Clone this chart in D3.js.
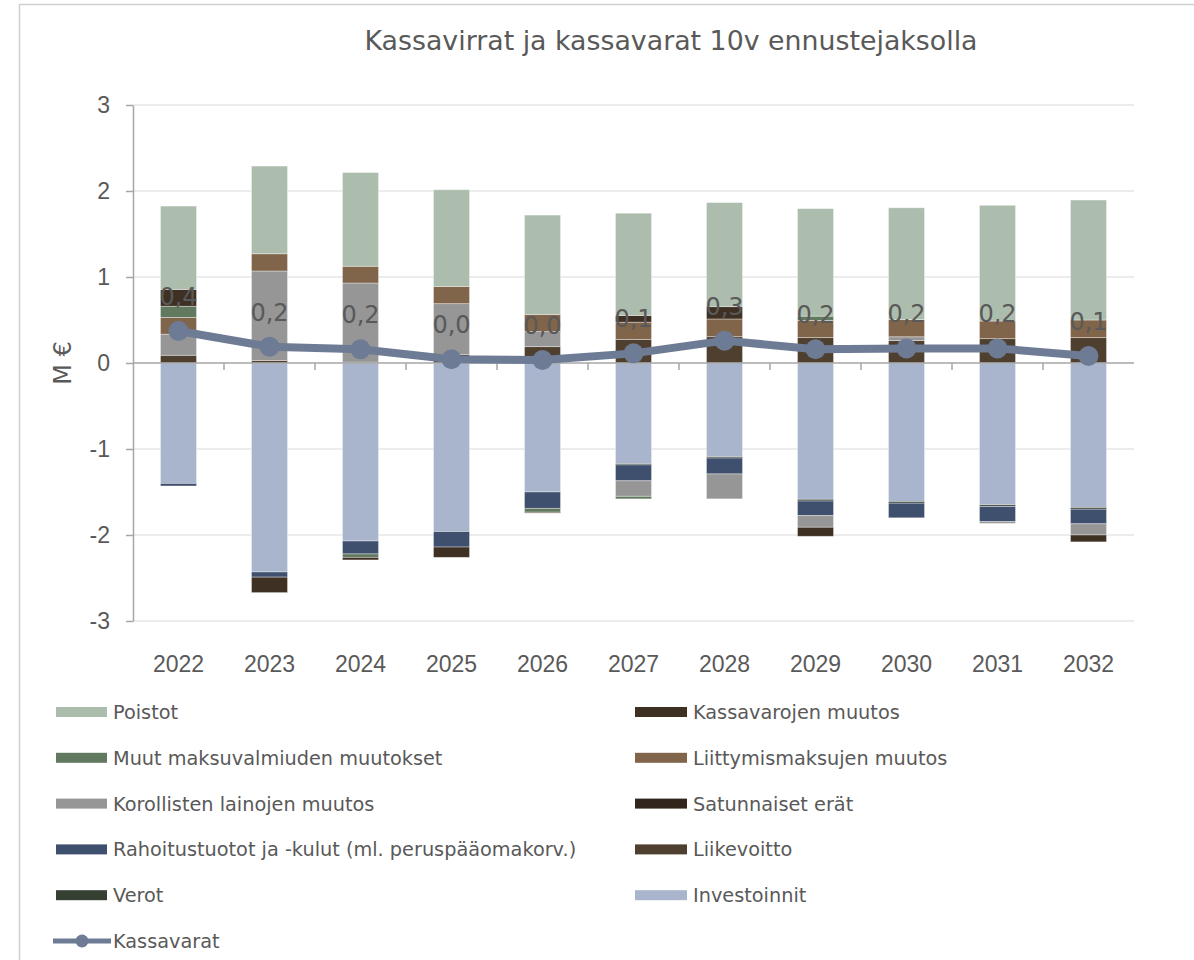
<!DOCTYPE html>
<html lang="fi">
<head>
    <meta charset="UTF-8"/>
    <title>Kassavirrat ja kassavarat</title>
    <script src="https://d3js.org/d3.v7.min.js"></script>
    <style>
        body { margin: 0; background: #fff; }
        svg { font-family: Verdana, "DejaVu Sans", sans-serif; }
        .axis path, .axis line { fill: none; stroke: #a6a6a6; stroke-width: 1.5; }
        .axis text { fill: #595959; font-size: 23px; }
        .grid-line { stroke: #d9d9d9; stroke-width: 1.2; }
        .legend text { fill: #595959; font-size: 19.3px; }
    </style>
</head>
<body></body>
<script>
    let width = 1194,
        height = 960;

    // vuodet ja sarjat (pinoamisjärjestys nollasta ulospäin)
    let years = ["2022", "2023", "2024", "2025", "2026", "2027", "2028", "2029", "2030", "2031", "2032"];

    let investoinnit = [-1.40, -2.43, -2.07, -1.96, -1.50, -1.17, -1.09, -1.585, -1.61, -1.65, -1.68];
    let verot = [0, 0, 0, 0, 0, -0.015, -0.015, -0.02, -0.02, -0.02, -0.02];
    let liikevoitto = [0.09, 0.03, 0.01, 0.10, 0.19, 0.275, 0.306, 0.295, 0.26, 0.283, 0.295];
    let rahoitus = [-0.03, -0.06, -0.15, -0.18, -0.19, -0.185, -0.185, -0.17, -0.17, -0.175, -0.17];
    let satunnaiset = [0, 0, 0, 0, 0, 0, 0, 0, 0, 0, 0];
    let korolliset = [0.245, 1.04, 0.92, 0.59, 0.175, -0.18, -0.29, -0.135, 0.045, -0.02, -0.13];
    let liittymis = [0.195, 0.20, 0.195, 0.20, 0.20, 0.20, 0.206, 0.20, 0.20, 0.205, 0.205];
    let muut = [0.13, 0, -0.04, 0, -0.045, -0.03, 0, 0.05, 0, 0, 0];
    let kassavarojenMuutos = [0.195, -0.18, -0.03, -0.12, -0.01, 0.077, 0.143, -0.105, 0, 0, -0.08];
    let poistot = [0.97, 1.02, 1.09, 1.125, 1.155, 1.19, 1.21, 1.25, 1.30, 1.346, 1.395];

    let kassavarat = [0.372, 0.19, 0.159, 0.043, 0.035, 0.112, 0.26, 0.16, 0.17, 0.17, 0.081];

    let yTicks = [-3, -2, -1, 0, 1, 2, 3];

    let series = [
        {key: "Investoinnit", values: investoinnit, color: "#a8b5cc"},
        {key: "Verot", values: verot, color: "#354033"},
        {key: "Liikevoitto", values: liikevoitto, color: "#4f3f2e"},
        {key: "Rahoitustuotot ja -kulut (ml. peruspääomakorv.)", values: rahoitus, color: "#3f4f6e"},
        {key: "Satunnaiset erät", values: satunnaiset, color: "#32261c"},
        {key: "Korollisten lainojen muutos", values: korolliset, color: "#969696"},
        {key: "Liittymismaksujen muutos", values: liittymis, color: "#80654a"},
        {key: "Muut maksuvalmiuden muutokset", values: muut, color: "#617a5f"},
        {key: "Kassavarojen muutos", values: kassavarojenMuutos, color: "#3f3024"},
        {key: "Poistot", values: poistot, color: "#adbdad"}
    ];
    let lineColor = "#6e7b95";

    let svg = d3.select("body").append("svg")
        .attr("width", width)
        .attr("height", height);

    // kaavion reunus
    svg.append("rect")
        .attr("x", 19.5).attr("y", 4.5)
        .attr("width", 1200).attr("height", 1000)
        .style("fill", "none")
        .style("stroke", "#d0d0d0")
        .style("stroke-width", 1.5);

    let plot = {left: 133, right: 1134, top: 105, bottom: 621};

    let x = d3.scaleBand()
        .domain(years)
        .range([plot.left, plot.right])
        .paddingInner(0.604)
        .paddingOuter(0.302);

    let y = d3.scaleLinear()
        .domain([-3, 3])
        .range([plot.bottom, plot.top]);

    // taulukko pinoamista varten
    let table = years.map((yr, i) => {
        let row = {year: yr};
        series.forEach(s => row[s.key] = s.values[i]);
        return row;
    });

    let stack = d3.stack()
        .keys(series.map(s => s.key))
        .order(d3.stackOrderNone)
        .offset(d3.stackOffsetDiverging);
    let stacked = stack(table);

    // vaakaviivat
    svg.append("g")
        .selectAll("line")
        .data(yTicks.filter(t => t !== 0))
        .enter().append("line")
        .attr("class", "grid-line")
        .attr("x1", plot.left)
        .attr("x2", plot.right)
        .attr("y1", d => y(d))
        .attr("y2", d => y(d));

    // pylväät
    let colorOf = {};
    series.forEach(s => colorOf[s.key] = s.color);

    svg.append("g")
        .selectAll("g")
        .data(stacked)
        .enter().append("g")
        .style("fill", d => colorOf[d.key])
        .selectAll("rect")
        .data(d => d)
        .enter().append("rect")
        .attr("x", d => x(d.data.year))
        .attr("width", x.bandwidth())
        .attr("y", d => y(Math.max(d[0], d[1])))
        .attr("height", d => Math.abs(y(d[0]) - y(d[1])))
        .style("stroke", "#ffffff")
        .style("stroke-opacity", 0.45)
        .style("stroke-width", 0.8);

    // y-akseli
    svg.append("g")
        .attr("class", "axis")
        .attr("transform", "translate(" + plot.left + ",0)")
        .call(d3.axisLeft(y).tickValues(yTicks).tickFormat(d => String(d))
            .tickSize(7).tickPadding(16).tickSizeOuter(0));

    // x-akselin viiva nollassa ja väliviivat
    let xAxis = svg.append("g").attr("class", "axis");
    xAxis.append("line")
        .attr("x1", plot.left).attr("x2", plot.right)
        .attr("y1", y(0)).attr("y2", y(0));
    let gap = x.step() - x.bandwidth();
    xAxis.selectAll("line.tick-mark")
        .data(years.slice(1))
        .enter().append("line")
        .attr("class", "tick-mark")
        .attr("x1", d => x(d) - gap / 2)
        .attr("x2", d => x(d) - gap / 2)
        .attr("y1", y(0))
        .attr("y2", y(0) + 7);

    // vuosinimet kaavion alaosassa
    svg.append("g")
        .attr("class", "axis")
        .attr("transform", "translate(0," + plot.bottom + ")")
        .call(d3.axisBottom(x).tickSize(0).tickPadding(35))
        .call(g => g.select(".domain").remove());

    // kassavarat viivana
    let cx = (d, i) => x(years[i]) + x.bandwidth() / 2;
    let line = d3.line()
        .x(cx)
        .y(d => y(d));

    svg.append("path")
        .attr("d", line(kassavarat))
        .style("fill", "none")
        .style("stroke", lineColor)
        .style("stroke-width", 8)
        .style("stroke-linejoin", "round");

    svg.append("g")
        .selectAll("circle")
        .data(kassavarat)
        .enter().append("circle")
        .attr("cx", cx)
        .attr("cy", d => y(d))
        .attr("r", 10)
        .style("fill", lineColor);

    let fmt = d => d3.format(".1f")(d).replace(".", ",");
    svg.append("g")
        .selectAll("text")
        .data(kassavarat)
        .enter().append("text")
        .attr("x", cx)
        .attr("y", d => y(d) - 26)
        .attr("text-anchor", "middle")
        .style("font-size", "24px")
        .style("fill", "#595959")
        .text(fmt);

    // otsikot
    svg.append("text")
        .attr("x", 671)
        .attr("y", 50)
        .attr("text-anchor", "middle")
        .style("font-size", "26.8px")
        .style("fill", "#595959")
        .text("Kassavirrat ja kassavarat 10v ennustejaksolla");

    svg.append("text")
        .attr("transform", "translate(71," + y(0) + ") rotate(-90)")
        .attr("text-anchor", "middle")
        .style("font-size", "24px")
        .style("fill", "#595959")
        .text("M €");

    // selite kahdessa sarakkeessa
    let legendItems = series.slice().reverse();
    let legend = svg.append("g").attr("class", "legend");
    let rowY = i => 712 + Math.floor(i / 2) * 45.8;

    legendItems.forEach((s, i) => {
        let left = i % 2 === 0;
        let sx = left ? 56 : 635,
            sw = left ? 51 : 52;
        legend.append("rect")
            .attr("x", sx)
            .attr("y", rowY(i) - 5)
            .attr("width", sw)
            .attr("height", 10)
            .style("fill", s.color);
        legend.append("text")
            .attr("x", sx + sw + 6)
            .attr("y", rowY(i))
            .attr("dy", "0.36em")
            .text(s.key);
    });

    let ky = rowY(10);
    legend.append("line")
        .attr("x1", 53).attr("x2", 111)
        .attr("y1", ky).attr("y2", ky)
        .style("stroke", lineColor)
        .style("stroke-width", 5);
    legend.append("circle")
        .attr("cx", 82).attr("cy", ky).attr("r", 6.5)
        .style("fill", lineColor);
    legend.append("text")
        .attr("x", 113)
        .attr("y", ky)
        .attr("dy", "0.36em")
        .text("Kassavarat");
</script>
</html>
